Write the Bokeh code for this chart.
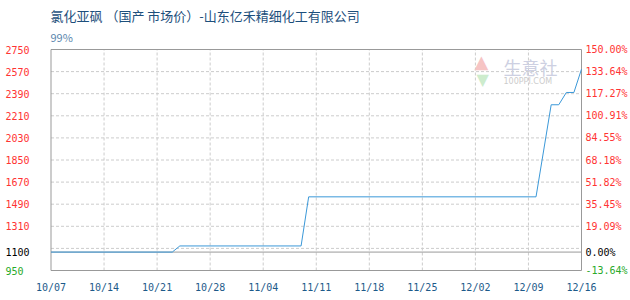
import pandas as pd
from bokeh.plotting import figure
from bokeh.models import Range1d, Label
from bokeh.embed import file_html
from bokeh.resources import INLINE

# ---- data -------------------------------------------------------------
TITLE = "氯化亚砜 （国产 市场价）-山东亿禾精细化工有限公司"
SUBTITLE = "99%"

dates = ["2019-10-07", "2019-10-23", "2019-10-24", "2019-11-09", "2019-11-10",
         "2019-12-10", "2019-12-12", "2019-12-13", "2019-12-14", "2019-12-15",
         "2019-12-16"]
prices = [1100, 1100, 1150, 1150, 1550, 1550, 2300, 2300, 2400, 2400, 2590]

base_price = 1100
y_min, y_max = 950, 2750
grid_prices = [2750, 2570, 2390, 2210, 2030, 1850, 1670, 1490, 1310, 1130]
price_labels = ["2750", "2570", "2390", "2210", "2030", "1850", "1670", "1490", "1310"]
week_dates = ["2019-10-07", "2019-10-14", "2019-10-21", "2019-10-28", "2019-11-04",
              "2019-11-11", "2019-11-18", "2019-11-25", "2019-12-02", "2019-12-09",
              "2019-12-16"]
week_labels = ["10/07", "10/14", "10/21", "10/28", "11/04", "11/11",
               "11/18", "11/25", "12/02", "12/09", "12/16"]

# ---- layout / styles ----------------------------------------------------
W, H = 630, 300
BOX_L, BOX_R, BOX_T, BOX_B = 50.5, 581.0, 49.0, 270.0   # plot box in pixels
RED = "#ff3333"
GREEN = "#2aaa2a"
BLUE_TXT = "#1d5a8a"
LINE = "#3b98d8"
BORDER = "#999999"
GRID = "#cccccc"
MONO = "DejaVu Sans Mono"


def ms(d):
    return pd.Timestamp(d).value / 1e6


def pct(v):
    return f"{(v - base_price) / base_price * 100:.2f}%"


x = [ms(d) for d in dates]
wx = [ms(d) for d in week_dates]

# the frame spans the whole canvas; ranges are widened so the value box
# sits at BOX_* and the tick texts can live in the margins
x_per_px = (wx[-1] - wx[0]) / (BOX_R - BOX_L)
y_per_px = (y_max - y_min) / (BOX_B - BOX_T)
x_range = Range1d(wx[0] - BOX_L * x_per_px, wx[-1] + (W - BOX_R) * x_per_px)
y_range = Range1d(y_min - (H - BOX_B) * y_per_px, y_max + BOX_T * y_per_px)

p = figure(width=W, height=H, output_backend="svg", toolbar_location=None,
           x_range=x_range, y_range=y_range,
           min_border=0, min_border_left=0, min_border_right=0,
           min_border_top=0, min_border_bottom=0)
p.xaxis.visible = False
p.yaxis.visible = False
p.xgrid.visible = False
p.ygrid.visible = False
p.outline_line_color = None
p.background_fill_color = "white"
p.border_fill_color = "white"

# dashed grid
inner_w = wx[1:-1]
p.segment(x0=inner_w, y0=[y_min] * len(inner_w), x1=inner_w, y1=[y_max] * len(inner_w),
          line_color=GRID, line_dash="3 2", line_width=1)
inner_p = grid_prices[1:]
p.segment(x0=[wx[0]] * len(inner_p), y0=inner_p, x1=[wx[-1]] * len(inner_p), y1=inner_p,
          line_color=GRID, line_dash="3 2", line_width=1)

# base-price line and box border
p.segment(x0=[wx[0]], y0=[base_price], x1=[wx[-1]], y1=[base_price],
          line_color=BORDER, line_width=1)
p.quad(left=[wx[0]], right=[wx[-1]], bottom=[y_min], top=[y_max],
       fill_color=None, line_color=BORDER, line_width=1)

# watermark
p.add_layout(Label(x=474, y=H - 61, x_units="screen", y_units="screen",
                   text="▲", text_font="DejaVu Sans", text_font_size="18px",
                   text_color="#f6c4c4", text_baseline="middle", text_align="left"))
p.add_layout(Label(x=476, y=H - 79, x_units="screen", y_units="screen",
                   text="▼", text_font="DejaVu Sans", text_font_size="16px",
                   text_color="#cdeccd", text_baseline="middle", text_align="left"))
p.add_layout(Label(x=503, y=H - 66, x_units="screen", y_units="screen",
                   text="生意社", text_font="Noto Sans CJK SC",
                   text_font_size="18px", text_color="#cdd0e2",
                   text_baseline="middle", text_align="left"))
p.add_layout(Label(x=503, y=H - 81, x_units="screen", y_units="screen",
                   text="100PPI.COM", text_font="DejaVu Sans",
                   text_font_size="8px", text_color="#cccccc",
                   text_baseline="middle", text_align="left"))

# price line
p.line(x, prices, line_color=LINE, line_width=1)

# left tick labels
for v, t in zip(grid_prices, price_labels):
    p.add_layout(Label(x=5, y=v, x_units="screen", y_units="data", text=t,
                       text_font=MONO, text_font_size="10px", text_color=RED,
                       text_align="left", text_baseline="middle"))
p.add_layout(Label(x=5, y=base_price, x_units="screen", y_units="data",
                   text=str(base_price), text_font=MONO, text_font_size="10px",
                   text_color="black", text_align="left", text_baseline="middle"))
p.add_layout(Label(x=5, y=y_min, x_units="screen", y_units="data",
                   text=str(y_min), text_font=MONO, text_font_size="10px",
                   text_color=GREEN, text_align="left", text_baseline="middle"))

# right tick labels (change relative to base price)
for v in grid_prices[:-1]:
    p.add_layout(Label(x=585, y=v, x_units="screen", y_units="data", text=pct(v),
                       text_font=MONO, text_font_size="10px", text_color=RED,
                       text_align="left", text_baseline="middle"))
p.add_layout(Label(x=585, y=base_price, x_units="screen", y_units="data",
                   text=pct(base_price), text_font=MONO, text_font_size="10px",
                   text_color="black", text_align="left", text_baseline="middle"))
p.add_layout(Label(x=585, y=y_min, x_units="screen", y_units="data",
                   text=pct(y_min), text_font=MONO, text_font_size="10px",
                   text_color=GREEN, text_align="left", text_baseline="middle"))

# date labels
for d, t in zip(wx, week_labels):
    p.add_layout(Label(x=d, y=H - 287, x_units="data", y_units="screen", text=t,
                       text_font=MONO, text_font_size="10px", text_color=BLUE_TXT,
                       text_align="center", text_baseline="middle"))

# title and subtitle
p.add_layout(Label(x=50, y=H - 15, x_units="screen", y_units="screen", text=TITLE,
                   text_font="Noto Sans CJK SC", text_font_size="13px",
                   text_color="#1d4f7c", text_align="left", text_baseline="middle"))
p.add_layout(Label(x=50, y=H - 36, x_units="screen", y_units="screen", text=SUBTITLE,
                   text_font="Noto Sans CJK SC", text_font_size="11px",
                   text_color="#5a86ad", text_align="left", text_baseline="middle"))

open("out.html", "w").write(file_html(p, INLINE))
